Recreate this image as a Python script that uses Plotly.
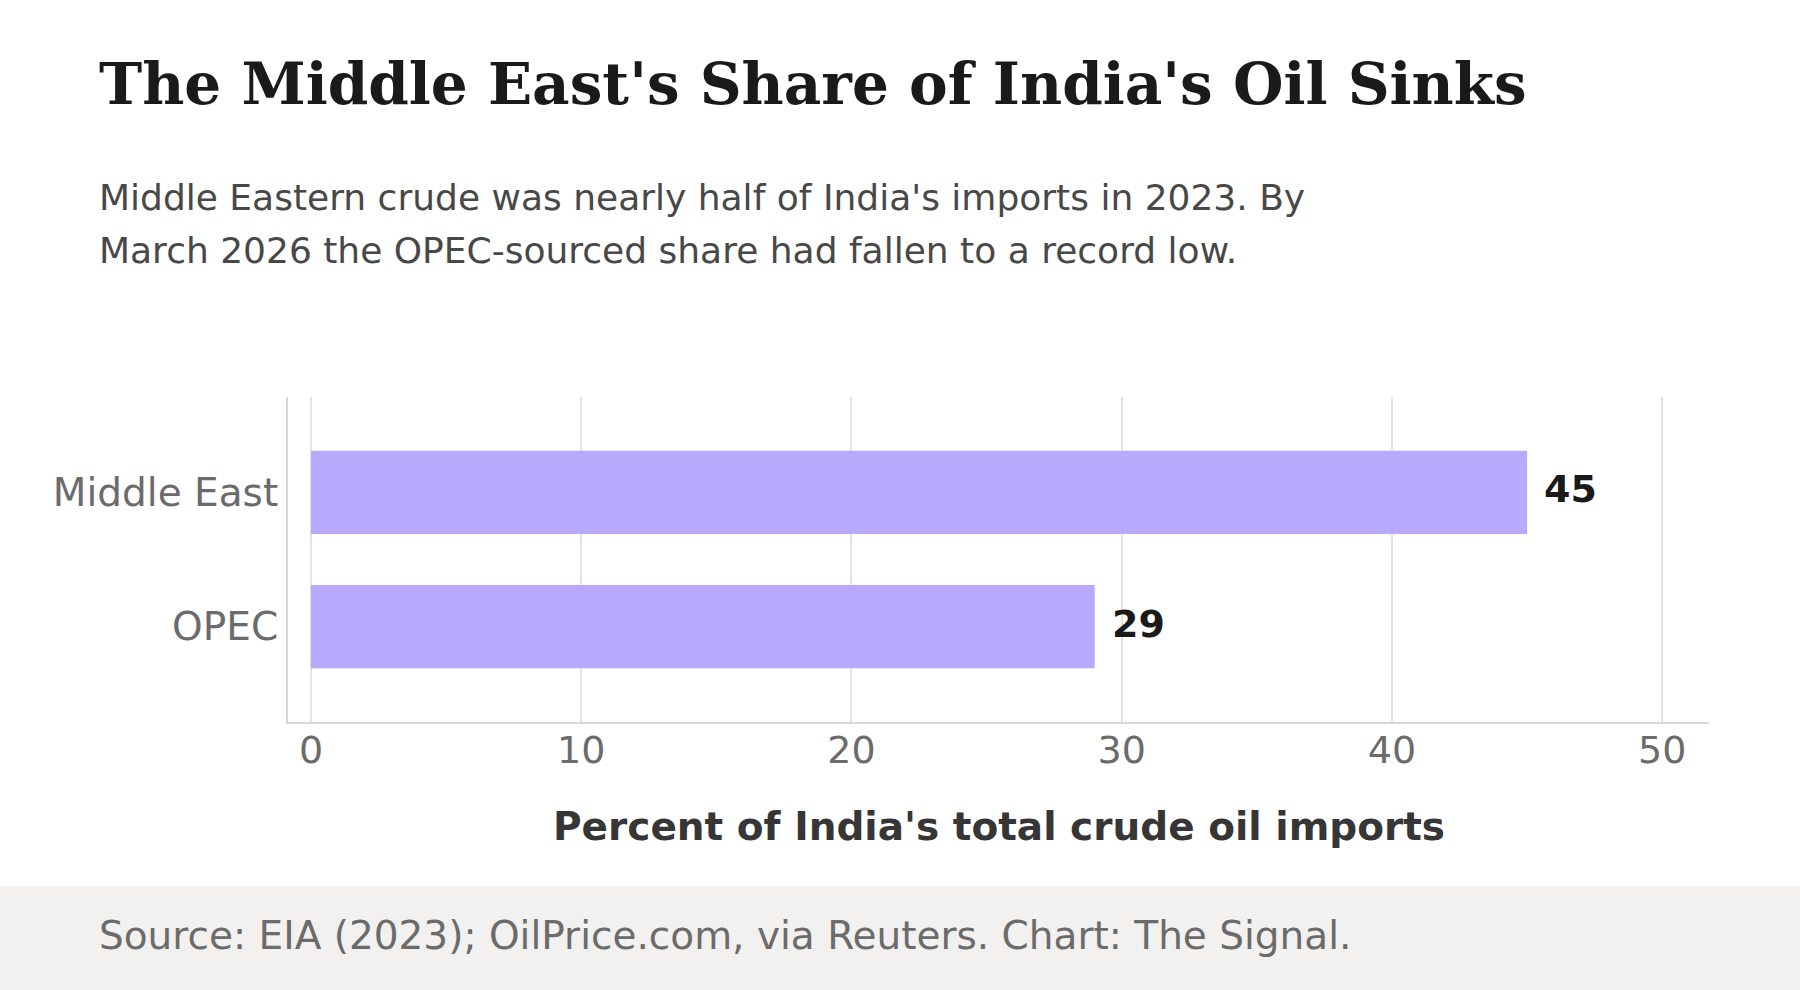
import plotly.graph_objects as go

categories = ["Middle East", "OPEC"]
shares = [45, 29]
x_ticks = [0, 10, 20, 30, 40, 50]

title = "The Middle East's Share of India's Oil Sinks"
subtitle_lines = [
    "Middle Eastern crude was nearly half of India's imports in 2023. By",
    "March 2026 the OPEC-sourced share had fallen to a record low.",
]
x_title = "Percent of India's total crude oil imports"
source = "Source: EIA (2023); OilPrice.com, via Reuters. Chart: The Signal."

W, H = 1800, 990
L, R, T, B = 288, 91, 397, 268
PW, PH = W - L - R, H - T - B


def px(x):
    return (x - L) / PW


def py(y):
    return (H - B - y) / PH


SANS = "DejaVu Sans"
BAR = "#b8a9fc"

fig = go.Figure()
fig.add_trace(go.Bar(
    x=shares, y=categories, orientation="h", width=0.62,
    marker=dict(color=BAR, line=dict(width=0)),
    hoverinfo="skip",
))

annotations = []
for c, v in zip(categories, shares):
    annotations.append(dict(
        x=v, y=c, xref="x", yref="y", text=f"<b>{v}</b>", showarrow=False,
        xanchor="left", yanchor="middle", xshift=15, yshift=3,
        font=dict(family=SANS, size=38, color="#1a1a1a"),
    ))

annotations.append(dict(
    x=px(97), y=py(84), xref="paper", yref="paper", text=f"<b>{title}</b>",
    showarrow=False, xanchor="left", yanchor="middle",
    font=dict(family="DejaVu Serif", size=58, color="#1a1a1a"),
))
for i, line in enumerate(subtitle_lines):
    annotations.append(dict(
        x=px(97), y=py(197 + 53 * i), xref="paper", yref="paper", text=line,
        showarrow=False, xanchor="left", yanchor="middle",
        font=dict(family=SANS, size=36, color="#484848"),
    ))
annotations.append(dict(
    x=px(97), y=py(935), xref="paper", yref="paper", text=source,
    showarrow=False, xanchor="left", yanchor="middle",
    font=dict(family=SANS, size=39, color="#6b6b6b"),
))
annotations.append(dict(
    x=0.5, y=py(826), xref="paper", yref="paper", text=f"<b>{x_title}</b>",
    showarrow=False, xanchor="center", yanchor="middle",
    font=dict(family=SANS, size=39, color="#363636"),
))

shapes = [dict(
    type="rect", xref="paper", yref="paper",
    x0=px(0), x1=px(W), y0=py(886), y1=py(H + 5),
    fillcolor="#f2f1ef", line=dict(width=0), layer="below",
)]

fig.update_layout(
    width=W, height=H,
    margin=dict(l=L, r=R, t=T, b=B, autoexpand=False),
    paper_bgcolor="white", plot_bgcolor="white",
    showlegend=False,
    annotations=annotations, shapes=shapes,
    xaxis=dict(
        range=[-0.85, 51.73], tickvals=x_ticks, ticktext=[str(t) for t in x_ticks],
        showgrid=True, gridcolor="#e4e3df", gridwidth=1.5,
        showline=True, linecolor="#d9d8d4", linewidth=2,
        zeroline=False, ticks="", ticklabelstandoff=-7,
        tickfont=dict(family=SANS, size=38, color="#6b6b6b"),
        fixedrange=True,
    ),
    yaxis=dict(
        categoryorder="array", categoryarray=categories[::-1],
        range=[-0.71, 1.71],
        showgrid=False, showline=True, linecolor="#d9d8d4", linewidth=2,
        zeroline=False, ticks="",
        tickfont=dict(family=SANS, size=39, color="#6b6b6b"),
        fixedrange=True,
    ),
)

fig.write_html("out.html", config={"displayModeBar": False})
